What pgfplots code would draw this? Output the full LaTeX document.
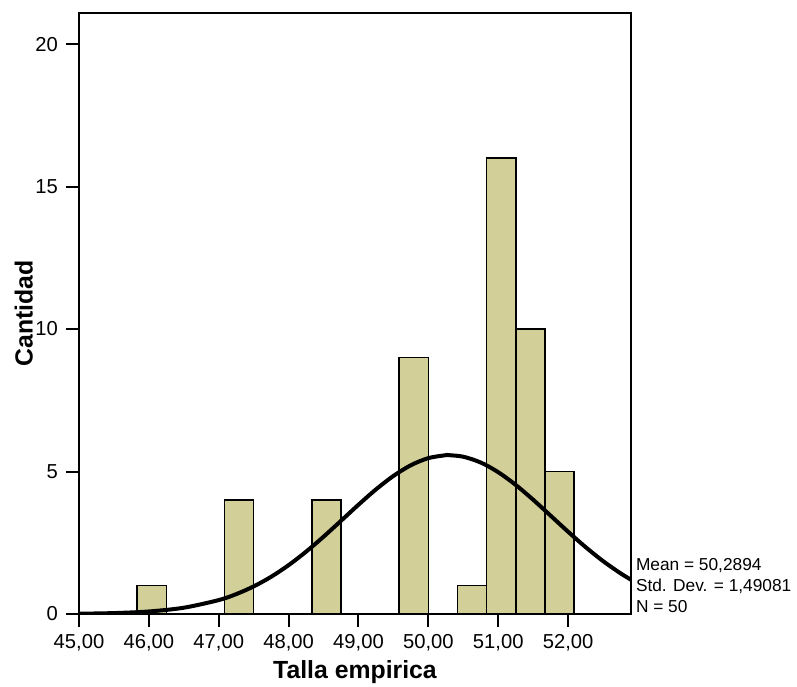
\documentclass[border=0pt]{standalone}
\usepackage{pgfplots}
\pgfplotsset{compat=1.18}
\usepackage{fontspec}
\setmainfont{Liberation Sans}
\definecolor{barfill}{RGB}{210,207,152}
\begin{document}
\begin{tikzpicture}
\path[use as bounding box] (-39.5pt,-36pt) rectangle (359pt,307pt);
\begin{axis}[
  at={(0,0)}, anchor=south west,
  scale only axis,
  width=276pt, height=300.5pt,
  xmin=45, xmax=52.9, ymin=0, ymax=21.09,
  axis line style={line width=1pt},
  xtick={45,46,47,48,49,50,51,52},
  xticklabels={{45,00},{46,00},{47,00},{48,00},{49,00},{50,00},{51,00},{52,00}},
  ytick={0,5,10,15,20},
  yticklabels={0,5,10,15,20},
  tick align=outside,
  xtick pos=bottom, ytick pos=left,
  major tick length=6.5pt,
  tick style={line width=1pt, black},
  ticklabel style={font=\fontsize{10.1}{12}\selectfont},
  xticklabel style={yshift=-0.2pt},
  yticklabel style={xshift=-0.5pt},
  xlabel={Talla empirica},
  ylabel={Cantidad},
  label style={font=\fontsize{12.4}{14}\selectfont\bfseries},
  xlabel style={at={(axis description cs:0.5,0)}, anchor=north, yshift=-19.5pt},
  ylabel style={at={(axis description cs:0,0.5)}, anchor=south, yshift=19.5pt},
  clip=true,
]
\addplot[ybar interval, fill=barfill, draw=black, line width=0.8pt] coordinates {
(45.8333,1) (46.25,0) (46.6667,0) (47.0833,4) (47.5,0) (47.9167,0)
(48.3333,4) (48.75,0) (49.1667,0) (49.5833,9) (50.0,0) (50.4167,1)
(50.8333,16) (51.25,10) (51.6667,5) (52.0833,5)
};
\addplot[black, line width=2pt, smooth, no markers] coordinates {
(45,0.0103) (45.5,0.0320) (46,0.0889) (46.5,0.2205) (47,0.4886)
(47.25,0.6976) (47.5,0.9684) (47.75,1.3067) (48,1.7145) (48.25,2.1872)
(48.5,2.7126) (48.75,3.2714) (49,3.8354) (49.25,4.3720) (49.5,4.8457)
(49.75,5.2218) (50,5.4710) (50.25,5.5731) (50.2894,5.575) (50.5,5.5196)
(50.75,5.3151) (51,4.9764) (51.25,4.5298) (51.5,4.0093) (51.75,3.4497)
(52,2.8865) (52.25,2.3479) (52.5,1.8570) (52.75,1.4280) (52.9,1.2034)
};
\end{axis}
\node[anchor=south west, inner sep=0pt, align=left,
      font=\fontsize{8.65}{10.6}\selectfont] at (278.3pt,0.5pt)
  {Mean = 50,2894\\Std. Dev. = 1,49081\\N = 50};
\end{tikzpicture}
\end{document}
